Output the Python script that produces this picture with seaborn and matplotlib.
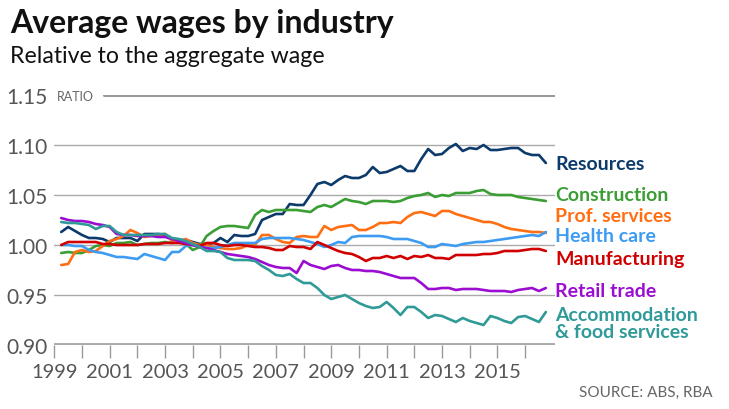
import numpy as np
import pandas as pd
import matplotlib
matplotlib.use("Agg")
import matplotlib.pyplot as plt
import seaborn as sns

# quarterly observations, mid-1999 to late-2016
quarters = np.arange(1999.25, 2016.76, 0.25)

resources = [1.013, 1.018, 1.014, 1.010, 1.007, 1.007, 1.006, 1.003, 1.007, 1.007,
             1.007, 1.004, 1.011, 1.011, 1.011, 1.010, 1.006, 1.005, 1.005, 1.003,
             1.001, 1.001, 1.002, 1.007, 1.003, 1.010, 1.009, 1.009, 1.011, 1.025,
             1.028, 1.031, 1.031, 1.041, 1.040, 1.040, 1.050, 1.061, 1.063, 1.060,
             1.065, 1.069, 1.067, 1.067, 1.070, 1.078, 1.072, 1.073, 1.076, 1.079,
             1.074, 1.074, 1.086, 1.096, 1.090, 1.091, 1.097, 1.101, 1.094, 1.097,
             1.096, 1.100, 1.095, 1.095, 1.096, 1.097, 1.097, 1.092, 1.090, 1.090,
             1.082]
construction = [0.992, 0.993, 0.992, 0.992, 0.995, 0.999, 1.000, 0.999, 1.002, 1.002,
                1.003, 1.000, 1.001, 1.002, 1.002, 1.003, 1.002, 1.003, 1.001, 0.995,
                0.998, 1.009, 1.014, 1.018, 1.019, 1.019, 1.018, 1.017, 1.030, 1.035,
                1.033, 1.035, 1.035, 1.035, 1.035, 1.034, 1.033, 1.038, 1.040, 1.038,
                1.042, 1.046, 1.044, 1.043, 1.041, 1.044, 1.044, 1.044, 1.043, 1.044,
                1.047, 1.049, 1.050, 1.052, 1.048, 1.050, 1.049, 1.052, 1.052, 1.052,
                1.054, 1.055, 1.051, 1.050, 1.050, 1.050, 1.048, 1.047, 1.046, 1.045,
                1.044]
prof_services = [0.980, 0.981, 0.993, 0.995, 0.993, 0.994, 0.999, 1.004, 1.006, 1.009,
                 1.015, 1.012, 1.008, 1.009, 1.010, 1.011, 1.004, 1.003, 1.006, 1.002,
                 1.000, 1.000, 0.998, 0.997, 0.996, 0.996, 0.997, 1.000, 1.000, 1.010,
                 1.010, 1.006, 1.003, 1.002, 1.008, 1.009, 1.008, 1.008, 1.019, 1.015,
                 1.018, 1.019, 1.020, 1.015, 1.015, 1.018, 1.022, 1.022, 1.023, 1.022,
                 1.028, 1.032, 1.033, 1.031, 1.029, 1.034, 1.034, 1.031, 1.029, 1.027,
                 1.025, 1.023, 1.023, 1.021, 1.018, 1.016, 1.015, 1.014, 1.013, 1.013,
                 1.012]
health_care = [1.000, 1.000, 0.999, 0.999, 0.995, 0.993, 0.992, 0.990, 0.988, 0.988,
               0.987, 0.986, 0.991, 0.989, 0.987, 0.985, 0.993, 0.993, 0.999, 1.000,
               0.999, 0.997, 0.997, 0.998, 1.000, 1.002, 1.002, 1.002, 1.002, 1.006,
               1.007, 1.007, 1.007, 1.007, 1.006, 1.005, 1.003, 1.001, 0.998, 1.000,
               1.003, 1.002, 1.008, 1.009, 1.009, 1.009, 1.009, 1.008, 1.006, 1.006,
               1.006, 1.004, 1.002, 0.998, 0.998, 1.001, 1.000, 0.999, 1.001, 1.002,
               1.003, 1.003, 1.004, 1.005, 1.006, 1.007, 1.008, 1.009, 1.010, 1.009,
               1.013]
manufacturing = [1.000, 1.003, 1.003, 1.003, 1.003, 1.003, 1.001, 1.001, 1.000, 1.000,
                 1.000, 1.000, 1.001, 1.001, 1.001, 1.002, 1.002, 1.002, 1.001, 1.000,
                 0.999, 1.002, 1.002, 1.000, 0.999, 1.000, 1.000, 0.999, 0.998, 0.998,
                 0.997, 0.995, 0.995, 0.999, 0.998, 0.998, 0.996, 1.003, 1.000, 0.997,
                 0.994, 0.992, 0.991, 0.988, 0.984, 0.987, 0.987, 0.989, 0.987, 0.989,
                 0.986, 0.989, 0.988, 0.990, 0.987, 0.987, 0.986, 0.990, 0.990, 0.990,
                 0.990, 0.991, 0.991, 0.992, 0.994, 0.994, 0.994, 0.995, 0.996, 0.996,
                 0.994]
retail = [1.027, 1.025, 1.024, 1.024, 1.023, 1.021, 1.020, 1.018, 1.011, 1.010,
          1.010, 1.009, 1.009, 1.009, 1.008, 1.008, 1.006, 1.004, 1.002, 1.000,
          0.998, 0.997, 0.995, 0.993, 0.991, 0.990, 0.989, 0.988, 0.986, 0.983,
          0.980, 0.978, 0.977, 0.977, 0.972, 0.984, 0.980, 0.978, 0.976, 0.979,
          0.980, 0.977, 0.975, 0.975, 0.974, 0.974, 0.973, 0.971, 0.969, 0.967,
          0.967, 0.967, 0.962, 0.956, 0.956, 0.957, 0.957, 0.955, 0.956, 0.956,
          0.956, 0.955, 0.954, 0.954, 0.954, 0.953, 0.955, 0.956, 0.957, 0.954,
          0.957]
accommodation = [1.023, 1.022, 1.022, 1.021, 1.020, 1.016, 1.019, 1.019, 1.013, 1.010,
                 1.010, 1.010, 1.010, 1.010, 1.011, 1.011, 1.007, 1.006, 1.004, 1.001,
                 0.998, 0.994, 0.994, 0.993, 0.987, 0.985, 0.985, 0.985, 0.984, 0.979,
                 0.975, 0.970, 0.969, 0.971, 0.966, 0.962, 0.962, 0.957, 0.950, 0.946,
                 0.948, 0.950, 0.946, 0.942, 0.939, 0.937, 0.938, 0.943, 0.937, 0.930,
                 0.938, 0.938, 0.933, 0.927, 0.930, 0.929, 0.926, 0.923, 0.927, 0.924,
                 0.922, 0.920, 0.929, 0.927, 0.924, 0.922, 0.928, 0.929, 0.926, 0.923,
                 0.933]

industries = ["Resources", "Construction", "Prof. services", "Health care",
              "Manufacturing", "Retail trade", "Accommodation\n& food services"]
colors = ["#0c3a6b", "#3a9e34", "#ff6e12", "#3d9cf2", "#d00000", "#9b0dd0", "#2f9a98"]
series = [resources, construction, prof_services, health_care,
          manufacturing, retail, accommodation]

year_ticks = list(range(1999, 2017))
year_labels = [str(y) if y % 2 == 1 and y <= 2015 else "" for y in year_ticks]
y_ticks = [0.90, 0.95, 1.00, 1.05, 1.10, 1.15]

df = pd.concat([pd.DataFrame({"year": quarters, "ratio": v, "industry": n})
                for n, v in zip(industries, series)])

sns.set_style("white")
plt.rcParams["font.family"] = ["Lato", "DejaVu Sans"]

W, H = 729, 410
fig = plt.figure(figsize=(W / 100, H / 100), dpi=100)
ax = fig.add_axes([54.3 / W, 1 - 346 / H, (555 - 54.3) / W, 250 / H])

grey = "#555555"
for y in y_ticks[1:-1]:
    ax.axhline(y, color="#aaaaaa", lw=1.0, zorder=0)
ax.axhline(1.15, xmin=(104 - 54.3) / (555 - 54.3), color="#999999", lw=2.2, zorder=0)
ax.axhline(0.90, color="#aaaaaa", lw=2.8, zorder=0)

sns.lineplot(data=df, x="year", y="ratio", hue="industry", palette=colors,
             hue_order=industries, lw=1.9, legend=False, ax=ax, zorder=3)

ax.set_xlim(1999, 2017.08)
ax.set_ylim(0.90, 1.15)
for s in ax.spines.values():
    s.set_visible(False)
ax.set_xlabel("")
ax.set_ylabel("")
ax.set_xticks(year_ticks)
ax.set_xticklabels(year_labels)
ax.set_yticks(y_ticks)
ax.set_yticklabels([f"{v:.2f}" for v in y_ticks])
ax.tick_params(axis="x", length=9, width=1, color="#999999", labelsize=14.5,
               labelcolor=grey, pad=4, bottom=True)
ax.tick_params(axis="y", length=0, labelsize=15, labelcolor=grey, pad=5)

fig.text(10 / W, 1 - 33 / H, "Average wages by industry", fontsize=23,
         fontweight="bold", color="#111111", va="baseline")
fig.text(10 / W, 1 - 63 / H, "Relative to the aggregate wage", fontsize=16.7,
         color="#111111", va="baseline")
fig.text(57 / W, 1 - 97 / H, "RATIO", fontsize=9, color="#666666", va="center")
fig.text(713 / W, 1 - 393 / H, "SOURCE: ABS, RBA", fontsize=11, color="#666666",
         va="center", ha="right")

label_y = [164, 196, 217, 237, 259, 292, 324]
for name, c, yy in zip(industries, colors, label_y):
    fig.text(555 / W, 1 - yy / H, name, fontsize=14, fontweight="bold", color=c,
             va="center", linespacing=0.95)

fig.savefig("out.png", dpi=100)
